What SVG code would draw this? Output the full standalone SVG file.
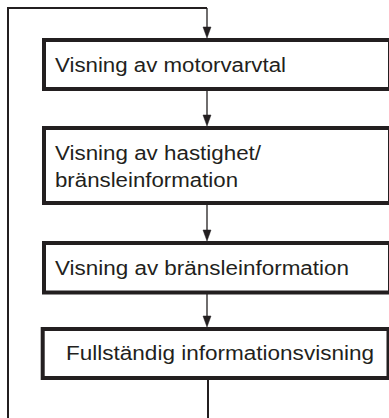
<svg xmlns="http://www.w3.org/2000/svg" width="389" height="418" viewBox="0 0 389 418">
  <style>
    .box { fill: #ffffff; stroke: #231f20; stroke-width: 4; }
    .lbl { font-family: "Liberation Sans", Arial, Helvetica, sans-serif; font-size: 20px; fill: #231f20; }
    .arrow { fill: none; stroke: #231f20; stroke-width: 1.3; }
    .loop { fill: none; stroke: #231f20; stroke-width: 2; }
    .head { fill: #231f20; stroke: #231f20; stroke-width: 0.5; }
  </style>

  <g id="connectors">
    <path class="loop" d="M208,418 V380"/>
    <path class="loop" d="M8,418 V8 H207"/>
    <path class="arrow" d="M207,8 V28"/>
    <polygon class="head" points="203,27 211,27 207,38"/>
    <path class="arrow" d="M207,91 V116"/>
    <polygon class="head" points="203,115 211,115 207,126"/>
    <path class="arrow" d="M207,205 V231"/>
    <polygon class="head" points="203,230 211,230 207,241"/>
    <path class="arrow" d="M207,294 V317"/>
    <polygon class="head" points="203,316 211,316 207,327"/>
  </g>

  <g id="node1">
    <rect class="box" x="44" y="40" width="346" height="49"/>
    <text class="lbl" x="55" y="72" textLength="231" lengthAdjust="spacingAndGlyphs">Visning av motorvarvtal</text>
  </g>

  <g id="node2">
    <rect class="box" x="44" y="128" width="346" height="75"/>
    <text class="lbl" x="55" y="160" textLength="206" lengthAdjust="spacingAndGlyphs">Visning av hastighet/</text>
    <text class="lbl" x="55" y="187" textLength="183" lengthAdjust="spacingAndGlyphs">bränsleinformation</text>
  </g>

  <g id="node3">
    <rect class="box" x="44" y="243" width="346" height="49.5"/>
    <text class="lbl" x="55" y="275" textLength="294" lengthAdjust="spacingAndGlyphs">Visning av bränsleinformation</text>
  </g>

  <g id="node4">
    <rect class="box" x="42.7" y="329" width="345.8" height="49"/>
    <text class="lbl" x="66" y="360" textLength="308" lengthAdjust="spacingAndGlyphs">Fullständig informationsvisning</text>
  </g>
</svg>
